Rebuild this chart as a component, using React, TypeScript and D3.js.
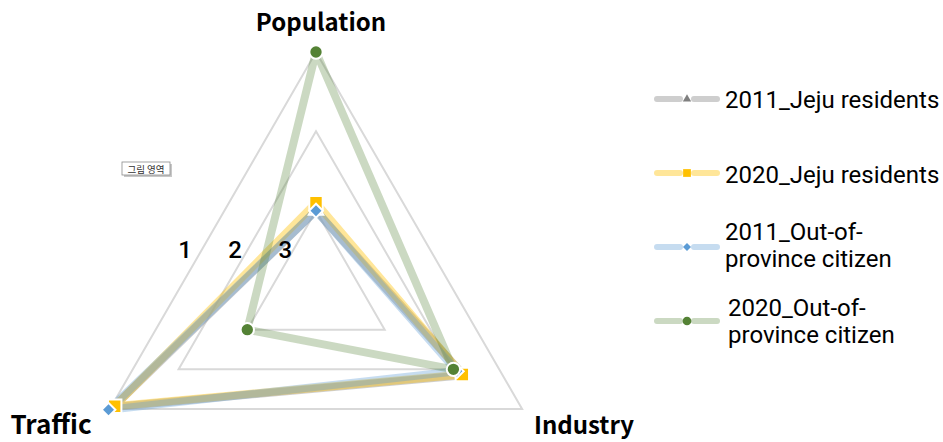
import React from 'react';
import * as d3 from 'd3';

const axes = ['Population', 'Industry', 'Traffic'];
const ticks = [1, 2, 3];

const jeju2011 = [3.0, 1.85, 1.05];
const jeju2020 = [2.9, 1.87, 1.07];
const out2011 = [3.0, 1.95, 0.98];
const out2020 = [1.0, 2.0, 3.0];

const seriesNames = [
  ['2011_Jeju residents'],
  ['2020_Jeju residents'],
  ['2011_Out-of-', 'province citizen'],
  ['2020_Out-of-', 'province citizen'],
];

const W = 943, H = 442;
const cx = 316, cy = 290, R = 238;
const FONT = "'Noto Sans CJK KR', 'Noto Sans', sans-serif";
const LEGEND_FONT = "Roboto, 'Noto Sans', sans-serif";

const series = [
  { values: jeju2011, color: '#a5a5a5', opacity: 0.55, marker: d3.symbolTriangle, rot: 0, mColor: '#7f7f7f', mSize: 90, lSize: 30 },
  { values: jeju2020, color: '#ffc000', opacity: 0.4, marker: d3.symbolSquare, rot: 0, mColor: '#ffc000', mSize: 180, lSize: 60 },
  { values: out2011, color: '#5b9bd5', opacity: 0.35, marker: d3.symbolSquare, rot: 45, mColor: '#5b9bd5', mSize: 95, lSize: 32 },
  { values: out2020, color: '#548235', opacity: 0.3, marker: d3.symbolCircle, rot: 0, mColor: '#548235', mSize: 140, lSize: 60 },
];

// reversed radial axis: 1 on the outside, 4 at the centre
const r = d3.scaleLinear().domain([4, 1]).range([0, R]);
const angle = d3.scaleLinear().domain([0, axes.length]).range([0, 2 * Math.PI]);

const radarLine = d3.lineRadial<number>()
  .angle((_, i) => angle(i))
  .radius(d => r(d))
  .curve(d3.curveLinearClosed);

const pt = (v: number, i: number) => {
  const a = angle(i);
  return [cx + r(v) * Math.sin(a), cy - r(v) * Math.cos(a)];
};

const legendY = [99, 173, 247, 321];
const legendTextY = [[108], [183], [240, 267], [316, 343]];

export default function App() {
  return (
    <svg width={W} height={H} style={{ position: 'absolute', left: 0, top: 0, background: '#fff' }}
      fontFamily={FONT}>
      <g transform={`translate(${cx},${cy})`}>
        {ticks.map(t => (
          <path key={t} d={radarLine(axes.map(() => t)) || ''} fill="none" stroke="#d9d9d9" strokeWidth={2} />
        ))}
        {series.map((s, si) => (
          <path key={si} d={radarLine(s.values) || ''} fill="none" stroke={s.color}
            strokeOpacity={s.opacity} strokeWidth={8} strokeLinejoin="round" />
        ))}
      </g>
      {series.map((s, si) => s.values.map((v, i) => {
        const [x, y] = pt(v, i);
        return (
          <path key={`${si}-${i}`} transform={`translate(${x},${y}) rotate(${s.rot})`}
            d={d3.symbol(s.marker, s.mSize)() || ''} fill={s.mColor} stroke="#fff" strokeWidth={2} />
        );
      }))}
      {ticks.map(t => (
        <text key={t} x={cx - r(t) * 0.633 + 19.6} y={258} textAnchor="middle" fontSize={24} fontWeight={500}
          fontFamily={LEGEND_FONT} fill="#000">{t}</text>
      ))}
      <text x={321} y={31} textAnchor="middle" fontSize={24} fontWeight={700}>{axes[0]}</text>
      <text x={584} y={434} textAnchor="middle" fontSize={24} fontWeight={700}>{axes[1]}</text>
      <text x={51} y={434} textAnchor="middle" fontSize={26} fontWeight={700}>{axes[2]}</text>

      <g>
        <rect x={124} y={164} width={48} height={13} fill="#c8c8c8" />
        <rect x={122} y={162} width={48} height={13} fill="#fff" stroke="#8c8c8c" strokeWidth={0.8} />
        <text x={146} y={172.5} textAnchor="middle" fontSize={9.5} fill="#333">그림 영역</text>
      </g>

      {series.map((s, si) => (
        <g key={si}>
          <line x1={657} x2={680} y1={legendY[si]} y2={legendY[si]} stroke={s.color} strokeOpacity={s.opacity}
            strokeWidth={6} strokeLinecap="round" />
          <line x1={694} x2={717} y1={legendY[si]} y2={legendY[si]} stroke={s.color} strokeOpacity={s.opacity}
            strokeWidth={6} strokeLinecap="round" />
          <path transform={`translate(687,${legendY[si]}) rotate(${s.rot})`} d={d3.symbol(s.marker, s.lSize)() || ''}
            fill={s.mColor} />
          {seriesNames[si].map((line, li) => (
            <text key={li} x={si === 3 ? 728 : 725} y={legendTextY[si][li]} fontSize={24}
              fontFamily={LEGEND_FONT} fill="#000">{line}</text>
          ))}
        </g>
      ))}
    </svg>
  );
}
